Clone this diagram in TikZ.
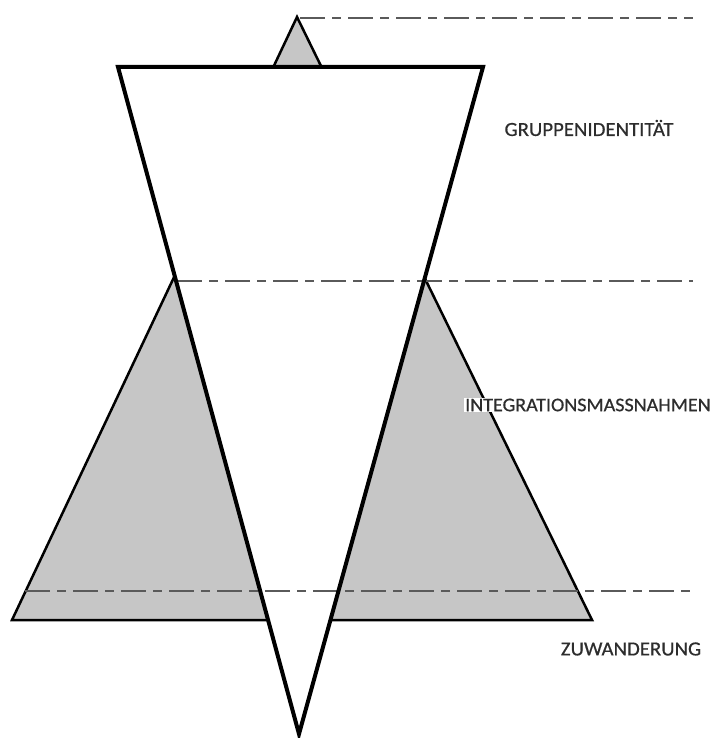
\documentclass[tikz,border=0pt]{standalone}
\usepackage{fontspec}
\setmainfont{Carlito}
\newfontfamily\lblfont[FakeStretch=1.04,FakeBold=0.6]{Carlito}
\begin{document}
\begin{tikzpicture}[x=1pt,y=-1pt,
  dashdot/.style={draw={rgb,255:red,90;green,90;blue,90},line width=2pt,dash pattern=on 25pt off 7pt on 9pt off 7pt},
  lbl/.style={font=\lblfont\fontsize{20}{24}\selectfont,text={rgb,255:red,45;green,45;blue,45},inner sep=1pt}]
\useasboundingbox (0,0) rectangle (713,738);
% vertices
\coordinate (gA) at (297,17);
\coordinate (gL) at (12,620);
\coordinate (gR) at (592,620);
\coordinate (wL) at (118,67);
\coordinate (wR) at (483,67);
\coordinate (wB) at (299,734);
% gray triangle
\draw[fill={rgb,255:red,198;green,198;blue,198},line width=2.5pt,line join=miter] (gA) -- (gL) -- (gR) -- cycle;
% white inverted triangle fill
\fill[white] (wL) -- (wR) -- (wB) -- cycle;
% dash-dot lines
\coordinate (d1s) at (300,18);
\coordinate (d1e) at (693,18);
\coordinate (d2s) at (177,281);
\coordinate (d2e) at (693,281);
\coordinate (d3s) at (25,591);
\coordinate (d3e) at (693,591);
\draw[dashdot] (d1s) -- (d1e);
\draw[dashdot] (d2s) -- (d2e);
\draw[dashdot] (d3s) -- (d3e);
% inverted triangle outline
\draw[line width=4pt,line join=miter] (wL) -- (wR) -- (wB) -- cycle;
% labels
\node[lbl] (gi) at (589,128) {GRUPPENIDENTITÄT};
\node[lbl,fill=white,anchor=west,font=\lblfont\fontsize{19.3}{24}\selectfont] (im) at (464,405) {INTEGRATIONSMASSNAHMEN};
\node[lbl] (zw) at (631,649) {ZUWANDERUNG};
\end{tikzpicture}
\end{document}
